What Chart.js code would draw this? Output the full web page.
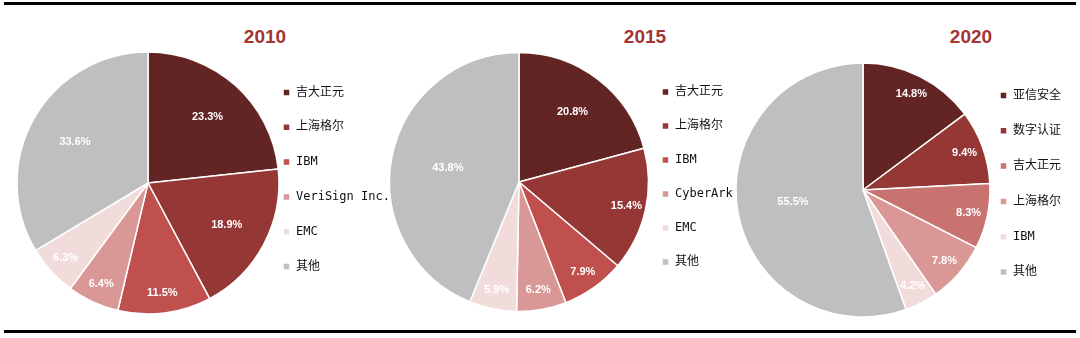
<!DOCTYPE html>
<html>
<head>
<meta charset="utf-8">
<script src="https://cdn.jsdelivr.net/npm/chart.js@4.4.1/dist/chart.umd.min.js"></script>
<style>
  body { margin: 0; background: #fff; }
  #wrap { position: relative; width: 1080px; height: 338px; overflow: hidden; }
  .rule { position: absolute; left: 4px; width: 1072px; height: 3px; background: #000; }
  .year { position: absolute; top: 26px; width: 80px; text-align: center; line-height: 22px;
          font: bold 19px 'Liberation Sans', Arial, sans-serif; color: #a33535; }
  canvas { position: absolute; top: 0; }
</style>
</head>
<body>
<div id="wrap">
  <div class="rule" style="top:2px"></div>
  <div class="rule" style="top:330px"></div>
  <div class="year" style="left:225px">2010</div>
  <div class="year" style="left:605px">2015</div>
  <div class="year" style="left:931px">2020</div>
  <canvas id="pie2010" width="440" height="338" style="left:0px"></canvas>
  <canvas id="pie2015" width="420" height="338" style="left:360px"></canvas>
  <canvas id="pie2020" width="360" height="338" style="left:720px"></canvas>
</div>
<script>
// market share by vendor, %
const labels2010 = ['吉大正元', '上海格尔', 'IBM', 'VeriSign Inc.', 'EMC', '其他'];
const share2010 = [23.3, 18.9, 11.5, 6.4, 6.3, 33.6];

const labels2015 = ['吉大正元', '上海格尔', 'IBM', 'CyberArk', 'EMC', '其他'];
const share2015 = [20.8, 15.4, 7.9, 6.2, 5.9, 43.8];

const labels2020 = ['亚信安全', '数字认证', '吉大正元', '上海格尔', 'IBM', '其他'];
const share2020 = [14.8, 9.4, 8.3, 7.8, 4.2, 55.5];

const palette = ['#632523', '#953735', '#c0504d', '#d99795', '#f2dcdb', '#bfbfbf'];
const palette2020 = ['#632523', '#953735', '#c97371', '#d99795', '#f2dcdb', '#bfbfbf'];

const FONT_SIZE = 12;
const FONT_FAMILY = "'DejaVu Sans Mono', 'Noto Sans CJK SC', monospace";
const BOX = 7;

// percentage labels inside the slices
const pctLabels = {
    id: 'pctLabels',
    afterDatasetsDraw(chart) {
        const ctx = chart.ctx;
        const values = chart.data.datasets[0].data;
        ctx.save();
        ctx.font = "bold 11px 'Liberation Sans', Arial, sans-serif";
        ctx.fillStyle = '#ffffff';
        ctx.textAlign = 'center';
        ctx.textBaseline = 'middle';
        chart.getDatasetMeta(0).data.forEach((arc, i) => {
            const p = arc.getProps(['x', 'y', 'startAngle', 'endAngle', 'outerRadius'], true);
            const mid = (p.startAngle + p.endAngle) / 2;
            const v = values[i];
            const k = v > 40 ? 0.56 : v >= 30 ? 0.64 : v >= 18 ? 0.68 : 0.85;
            ctx.fillText(v.toFixed(1) + '%',
                p.x + Math.cos(mid) * p.outerRadius * k,
                p.y + Math.sin(mid) * p.outerRadius * k);
        });
        ctx.restore();
    }
};

const measureCtx = document.createElement('canvas').getContext('2d');
measureCtx.font = FONT_SIZE + 'px ' + FONT_FAMILY;

// g: pie centre / radius, legend box x, first legend row y, row step (page coords)
function makePie(id, left, width, labels, values, colors, g) {
    const legPad = g.step - FONT_SIZE;
    const textW = Math.max(...labels.map(t => measureCtx.measureText(t).width));
    // same sum chart.js uses when fitting a vertical legend
    const legWidth = legPad + BOX + FONT_SIZE / 2 + textW + 10;
    const areaRight = g.lx - legPad;
    const areaLeft = 2 * g.cx - areaRight;
    const padTop = g.ly - FONT_SIZE / 2 - legPad;
    const padBottom = padTop + 338 - 2 * g.cy;

    new Chart(document.getElementById(id), {
        type: 'pie',
        data: {
            labels: labels,
            datasets: [{
                data: values,
                backgroundColor: colors,
                borderColor: '#ffffff',
                borderWidth: 1.5,
                radius: g.r,
                clip: false
            }]
        },
        options: {
            responsive: false,
            animation: false,
            layout: {
                padding: {
                    left: areaLeft - left,
                    right: Math.max(0, left + width - areaRight - legWidth),
                    top: padTop,
                    bottom: padBottom
                }
            },
            plugins: {
                legend: {
                    position: 'right',
                    align: 'start',
                    labels: {
                        boxWidth: BOX,
                        boxHeight: BOX,
                        padding: legPad,
                        color: '#111111',
                        font: {
                            size: FONT_SIZE,
                            family: FONT_FAMILY
                        }
                    }
                },
                tooltip: { enabled: false }
            }
        },
        plugins: [pctLabels]
    });
}

makePie('pie2010', 0, 440, labels2010, share2010, palette,
    { cx: 148, cy: 183, r: 131, lx: 283, ly: 92.5, step: 34.8 });
makePie('pie2015', 360, 420, labels2015, share2015, palette,
    { cx: 519, cy: 182, r: 129.5, lx: 662, ly: 92, step: 34 });
makePie('pie2020', 720, 360, labels2020, share2020, palette2020,
    { cx: 863, cy: 190, r: 127, lx: 1000, ly: 95.5, step: 35.3 });
</script>
</body>
</html>
